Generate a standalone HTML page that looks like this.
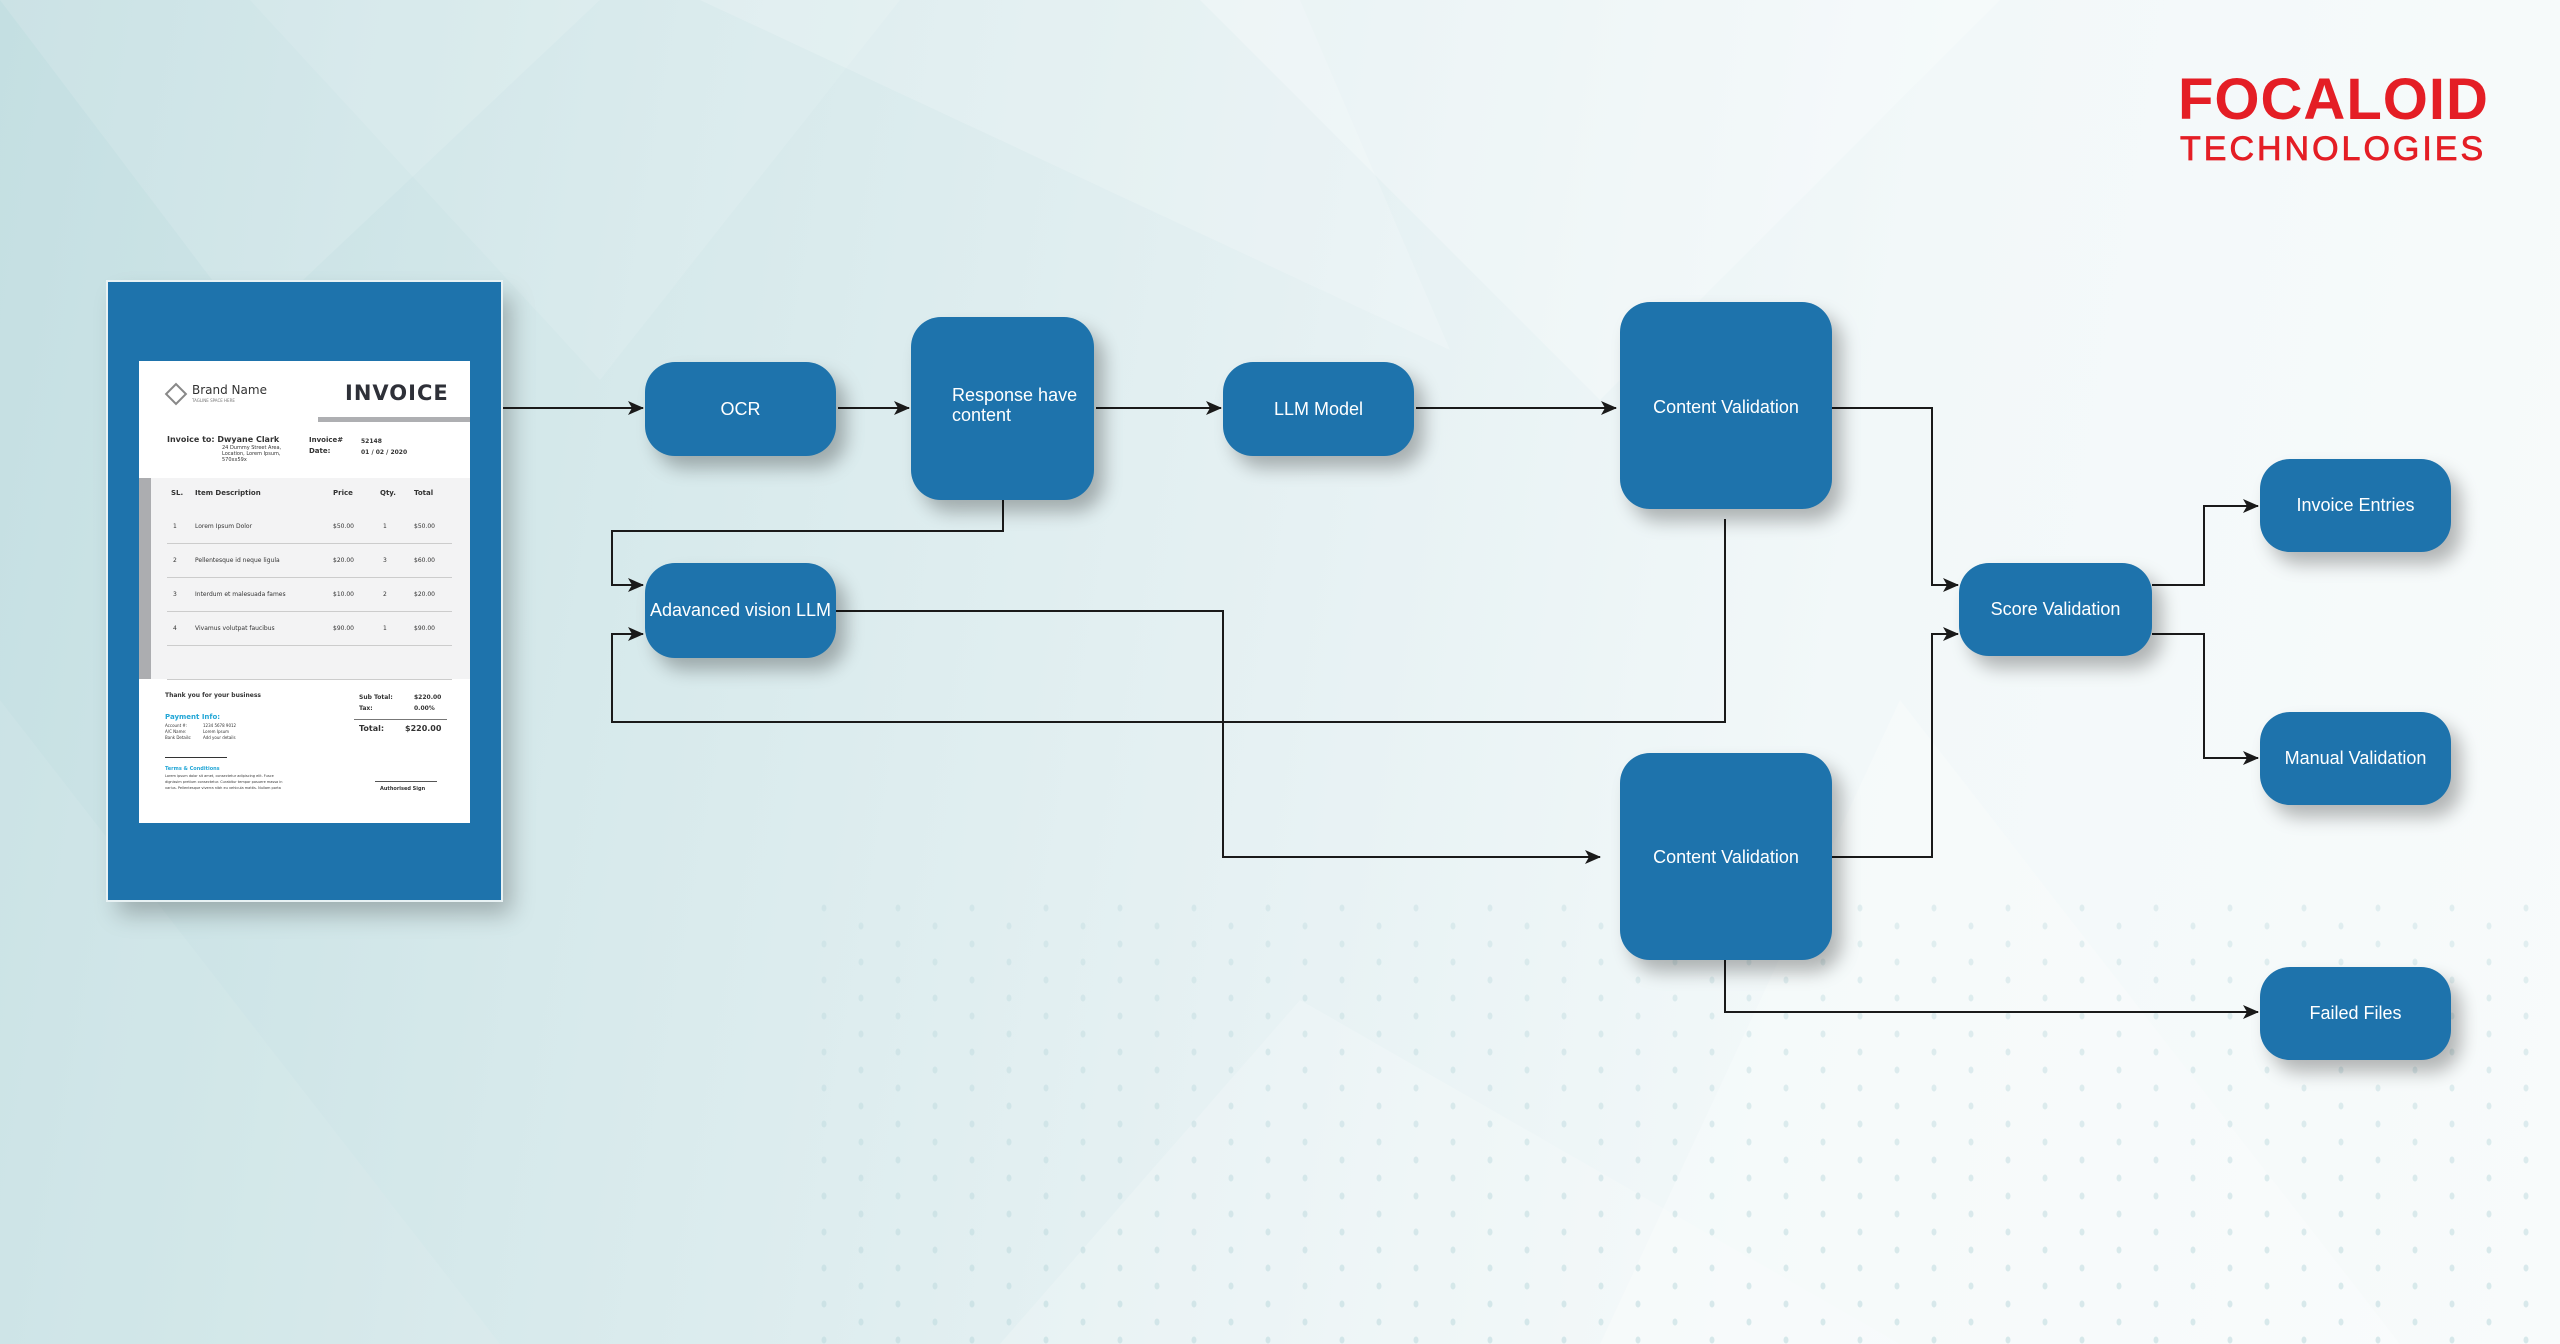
<!DOCTYPE html>
<html><head><meta charset="utf-8">
<style>
html,body{margin:0;padding:0}
body{width:2560px;height:1344px;position:relative;overflow:hidden;font-family:"Liberation Sans",sans-serif;
background:linear-gradient(100deg,#c4dfe2 0%,#d6e9eb 25%,#e6f1f3 50%,#f2f8f9 70%,#f8fbfb 100%);}
.bg{position:absolute;left:0;top:0}
.box{position:absolute;background:#1e73ac;border-radius:30px;color:#fff;font-size:18px;display:flex;align-items:center;justify-content:center;text-align:center;box-shadow:10px 12px 18px rgba(0,0,0,0.28)}
.inv{position:absolute;left:108px;top:282px;width:393px;height:618px;background:#1e73ac;box-shadow:0 0 0 2px #e8f2f4,10px 14px 22px rgba(0,0,0,0.25)}
.paper{position:absolute;left:31px;top:79px;width:331px;height:462px;background:#fff;font-family:"DejaVu Sans",sans-serif;color:#333}
.paper div{position:absolute;white-space:nowrap}
.logo{position:absolute;left:2180px;top:70px;color:#e41e25;font-family:"Liberation Sans",sans-serif;font-weight:bold}
</style></head><body>
<svg class="bg" width="2560" height="1344">
<defs>
<pattern id="dots" width="74" height="36" patternUnits="userSpaceOnUse">
<ellipse cx="10" cy="8" rx="2.5" ry="3.5" fill="#bcd9dd"/>
<ellipse cx="47" cy="26" rx="2.5" ry="3.5" fill="#bcd9dd"/>
</pattern>
<linearGradient id="fade" x1="0" y1="0" x2="0" y2="1">
<stop offset="0" stop-color="#fff" stop-opacity="0"/>
<stop offset="1" stop-color="#fff" stop-opacity="1"/>
</linearGradient>
<mask id="m"><rect x="0" y="0" width="2560" height="1344" fill="url(#fade)"/></mask>
</defs>
<polygon points="0,0 600,0 250,330" fill="#fff" opacity="0.12"/>
<polygon points="250,0 900,0 600,380" fill="#fff" opacity="0.10"/>
<polygon points="700,0 1450,350 1300,0" fill="#fff" opacity="0.18"/>
<polygon points="1200,0 2000,0 1600,400" fill="#fff" opacity="0.25"/>
<polygon points="0,700 500,1344 0,1344" fill="#fff" opacity="0.08"/>
<polygon points="1300,1000 1900,1344 1000,1344" fill="#fff" opacity="0.2"/>
<polygon points="1900,700 2400,1344 1600,1344" fill="#fff" opacity="0.25"/>
<rect x="800" y="900" width="1760" height="444" fill="url(#dots)" mask="url(#m)" opacity="0.55"/>
</svg>

<div class="inv"><div class="paper">
<div style="left:29px;top:25px;width:12px;height:12px;border:2px solid #888;transform:rotate(45deg)"></div>
<div style="left:53px;top:22px;font-size:12px;color:#333">Brand Name</div>
<div style="left:53px;top:37px;font-size:4px;color:#777">TAGLINE SPACE HERE</div>
<div style="left:206px;top:20px;font-size:21px;font-weight:bold;letter-spacing:1px;color:#2e3038">INVOICE</div>
<div style="left:179px;top:56px;width:152px;height:5px;background:#aeafb2"></div>
<div style="left:28px;top:74px;font-size:8px;font-weight:bold">Invoice to: <span>Dwyane Clark</span></div>
<div style="left:83px;top:84px;font-size:5px;line-height:6px">24 Dummy Street Area,<br>Location, Lorem Ipsum,<br>570xx59x</div>
<div style="left:170px;top:74px;font-size:7px;font-weight:bold;line-height:11px">Invoice#<br>Date:</div>
<div style="left:222px;top:75px;font-size:6px;font-weight:bold;line-height:11px">52148<br>01 / 02 / 2020</div>
<div style="left:0;top:117px;width:331px;height:201px;background:#f3f3f4"></div>
<div style="left:0;top:117px;width:12px;height:201px;background:#acadb0"></div>
<div style="left:32px;top:128px;font-size:7px;font-weight:bold">SL.</div>
<div style="left:56px;top:128px;font-size:7px;font-weight:bold">Item Description</div>
<div style="left:194px;top:128px;font-size:7px;font-weight:bold">Price</div>
<div style="left:241px;top:128px;font-size:7px;font-weight:bold">Qty.</div>
<div style="left:275px;top:128px;font-size:7px;font-weight:bold">Total</div>
<div style="left:34px;top:149px;font-size:6px;line-height:34px">1<br>2<br>3<br>4</div>
<div style="left:56px;top:149px;font-size:6px;line-height:34px">Lorem Ipsum Dolor<br>Pellentesque id neque ligula<br>Interdum et malesuada fames<br>Vivamus volutpat faucibus</div>
<div style="left:194px;top:149px;font-size:6px;line-height:34px">$50.00<br>$20.00<br>$10.00<br>$90.00</div>
<div style="left:244px;top:149px;font-size:6px;line-height:34px">1<br>3<br>2<br>1</div>
<div style="left:275px;top:149px;font-size:6px;line-height:34px">$50.00<br>$60.00<br>$20.00<br>$90.00</div>
<div style="left:28px;top:182px;width:285px;height:1px;background:#ccc"></div>
<div style="left:28px;top:216px;width:285px;height:1px;background:#ccc"></div>
<div style="left:28px;top:250px;width:285px;height:1px;background:#ccc"></div>
<div style="left:28px;top:284px;width:285px;height:1px;background:#ccc"></div>
<div style="left:28px;top:318px;width:285px;height:1px;background:#ccc"></div>
<div style="left:26px;top:331px;font-size:6px;font-weight:bold">Thank you for your business</div>
<div style="left:220px;top:331px;font-size:6px;font-weight:bold;line-height:11px">Sub Total:<br>Tax:</div>
<div style="left:275px;top:331px;font-size:6px;font-weight:bold;line-height:11px">$220.00<br>0.00%</div>
<div style="left:215px;top:358px;width:93px;height:1px;background:#777"></div>
<div style="left:220px;top:363px;font-size:8px;font-weight:bold">Total:</div>
<div style="left:266px;top:363px;font-size:8px;font-weight:bold">$220.00</div>
<div style="left:26px;top:352px;font-size:7px;font-weight:bold;color:#22a6d6">Payment Info:</div>
<div style="left:26px;top:362px;font-size:4px;line-height:6px">Account #:<br>A/C Name:<br>Bank Details:</div>
<div style="left:64px;top:362px;font-size:4px;line-height:6px">1234 5678 9012<br>Lorem Ipsum<br>Add your details</div>
<div style="left:26px;top:396px;width:62px;height:1px;background:#333"></div>
<div style="left:26px;top:405px;font-size:5px;font-weight:bold;color:#22a6d6">Terms &amp; Conditions</div>
<div style="left:26px;top:412px;font-size:3.5px;line-height:6px">Lorem ipsum dolor sit amet, consectetur adipiscing elit. Fusce<br>dignissim pretium consectetur. Curabitur tempor posuere massa in<br>varius. Pellentesque viverra nibh eu vehicula mattis. Nullam porta</div>
<div style="left:236px;top:420px;width:62px;height:1px;background:#555"></div>
<div style="left:241px;top:425px;font-size:5px;font-weight:bold">Authorised Sign</div>
</div></div>

<svg class="bg" width="2560" height="1344" style="z-index:1">
<defs>
<marker id="b" markerWidth="16" markerHeight="14" refX="15" refY="7" orient="auto" markerUnits="userSpaceOnUse"><path d="M0,0 L16,7 L0,14 L4,7 Z" fill="#1a1a1a"/></marker></defs>
<g stroke="#1a1a1a" stroke-width="2" fill="none">
<path d="M503,408 H643" marker-end="url(#b)"/>
<path d="M838,408 H909" marker-end="url(#b)"/>
<path d="M1096,408 H1221" marker-end="url(#b)"/>
<path d="M1416,408 H1616" marker-end="url(#b)"/>
<path d="M1003,500 V531 H612 V585 H643" marker-end="url(#b)"/>
<path d="M1725,519 V722 H612 V634 H643" marker-end="url(#b)"/>
<path d="M836,611 H1223 V857 H1600" marker-end="url(#b)"/>
<path d="M1832,408 H1932 V585 H1958" marker-end="url(#b)"/>
<path d="M1832,857 H1932 V634 H1958" marker-end="url(#b)"/>
<path d="M2152,585 H2204 V506 H2258" marker-end="url(#b)"/>
<path d="M2152,634 H2204 V758 H2258" marker-end="url(#b)"/>
<path d="M1725,960 V1012 H2258" marker-end="url(#b)"/>
</g></svg>

<div class="box" style="left:645px;top:362px;width:191px;height:94px;z-index:2">OCR</div>
<div class="box" style="left:911px;top:317px;width:183px;height:183px;z-index:2;justify-content:flex-start;align-items:flex-start;text-align:left"><div style="position:absolute;left:41px;top:68px;line-height:20px">Response have<br>content</div></div>
<div class="box" style="left:1223px;top:362px;width:191px;height:94px;z-index:2">LLM Model</div>
<div class="box" style="left:1620px;top:302px;width:212px;height:207px;z-index:2;align-items:flex-start"><div style="margin-top:95px">Content Validation</div></div>
<div class="box" style="left:645px;top:563px;width:191px;height:95px;z-index:2">Adavanced vision LLM</div>
<div class="box" style="left:1620px;top:753px;width:212px;height:207px;z-index:2;align-items:flex-start"><div style="margin-top:94px">Content Validation</div></div>
<div class="box" style="left:1959px;top:563px;width:193px;height:93px;z-index:2">Score Validation</div>
<div class="box" style="left:2260px;top:459px;width:191px;height:93px;z-index:2">Invoice Entries</div>
<div class="box" style="left:2260px;top:712px;width:191px;height:93px;z-index:2">Manual Validation</div>
<div class="box" style="left:2260px;top:967px;width:191px;height:93px;z-index:2">Failed Files</div>

<div class="logo" style="font-size:58px;top:66px;left:2178px;letter-spacing:1px">FOCALOID</div>
<div class="logo" style="font-size:34px;top:130px;left:2180px;font-weight:normal;letter-spacing:3px;-webkit-text-stroke:0.8px #e41e25">TECHNOLOGIES</div>
</body></html>
